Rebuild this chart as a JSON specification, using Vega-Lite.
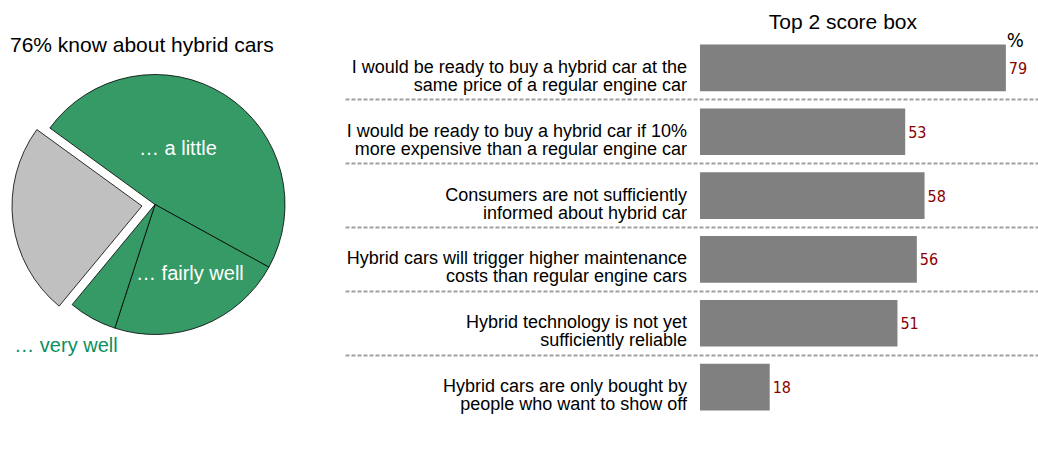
{
  "$schema": "https://vega.github.io/schema/vega-lite/v6.json",
  "padding": {"left": 0, "right": 0, "top": 12, "bottom": 0},
  "background": "white",
  "config": {
    "view": {"stroke": null},
    "font": "Liberation Sans",
    "title": {"fontWeight": "normal", "color": "black", "font": "Liberation Sans"}
  },
  "title": {"text": "Top 2 score box", "anchor": "end", "dx": -121, "fontSize": 21, "offset": -2},
  "spacing": 35,
  "hconcat": [
    {
      "width": 310,
      "height": 337,
      "title": {"text": "76% know about hybrid cars", "anchor": "start", "dx": 10, "fontSize": 21, "offset": -20},
      "data": {
        "values": [
          {"cat": "little", "label": "… a little", "value": 48, "ord": 1},
          {"cat": "fairly", "label": "… fairly well", "value": 22, "ord": 2},
          {"cat": "very", "label": "… very well", "value": 6, "ord": 3},
          {"cat": "none", "label": "", "value": 24, "ord": 4}
        ]
      },
      "encoding": {
        "theta": {"field": "value", "type": "quantitative", "stack": true, "scale": {"range": [-0.942, 5.341]}},
        "order": {"field": "ord", "type": "quantitative"}
      },
      "layer": [
        {
          "mark": {
            "type": "arc",
            "outerRadius": 130,
            "stroke": "black",
            "strokeWidth": 0.8,
            "xOffset": {"expr": "datum.cat === 'none' ? -13 : 0"},
            "yOffset": {"expr": "datum.cat === 'none' ? 1.5 : 0"}
          },
          "encoding": {
            "color": {
              "field": "cat",
              "type": "nominal",
              "scale": {"domain": ["little", "fairly", "very", "none"], "range": ["#359a66", "#359a66", "#359a66", "#c0c0c0"]},
              "legend": null
            }
          }
        },
        {
          "mark": {
            "type": "text",
            "fontSize": 20,
            "baseline": "middle",
            "align": "center",
            "radius": {"expr": "datum.cat === 'very' ? 166 : 65"},
            "dx": {"expr": "datum.cat === 'little' ? -12 : datum.cat === 'fairly' ? 11 : -9"},
            "dy": {"expr": "datum.cat === 'little' ? -1 : datum.cat === 'fairly' ? 9 : -4"},
            "fill": {"expr": "datum.cat === 'very' ? '#0b8f5f' : 'white'"}
          },
          "encoding": {"text": {"field": "label"}}
        }
      ]
    },
    {
      "width": 693,
      "height": 383,
      "data": {
        "values": [
          {"id": "q1", "label": "I would be ready to buy a hybrid car at the\nsame price of a regular engine car", "value": 79},
          {"id": "q2", "label": "I would be ready to buy a hybrid car if 10%\nmore expensive than a regular engine car", "value": 53},
          {"id": "q3", "label": "Consumers are not sufficiently\ninformed about hybrid car", "value": 58},
          {"id": "q4", "label": "Hybrid cars will trigger higher maintenance\ncosts than regular engine cars", "value": 56},
          {"id": "q5", "label": "Hybrid technology is not yet\nsufficiently reliable", "value": 51},
          {"id": "q6", "label": "Hybrid cars are only bought by\npeople who want to show off", "value": 18}
        ]
      },
      "encoding": {
        "y": {
          "field": "id",
          "type": "nominal",
          "sort": null,
          "scale": {"paddingInner": 0, "paddingOuter": 0},
          "axis": {
            "domain": false,
            "ticks": false,
            "labels": false,
            "title": null,
            "grid": true,
            "gridDash": [4, 2],
            "gridColor": "#a0a0a0",
            "gridWidth": 1.8,
            "bandPosition": 0,
            "gridOpacity": {"condition": {"test": "datum.value === 'q1'", "value": 0}, "value": 1}
          }
        }
      },
      "layer": [
        {
          "mark": {"type": "bar", "color": "#808080", "height": {"band": 0.73}},
          "encoding": {
            "x": {"field": "value", "type": "quantitative", "scale": {"domain": [-91.7, 87.3], "nice": false}, "axis": null}
          }
        },
        {
          "mark": {"type": "text", "align": "left", "baseline": "middle", "dx": 3, "dy": 1, "color": "#8b0000", "fontSize": 16, "font": "DejaVu Sans Condensed, sans-serif"},
          "encoding": {
            "x": {"field": "value", "type": "quantitative"},
            "text": {"field": "value", "type": "quantitative"}
          }
        },
        {
          "mark": {"type": "text", "align": "right", "baseline": "middle", "dx": -13, "lineBreak": "\n", "fontSize": 18, "lineHeight": 18, "color": "black"},
          "encoding": {
            "x": {"datum": 0, "type": "quantitative"},
            "text": {"field": "label"}
          }
        },
        {
          "data": {"values": [{"t": "%"}]},
          "mark": {"type": "text", "align": "left", "baseline": "middle", "dx": 1, "dy": 5, "fontSize": 20, "color": "black", "font": "DejaVu Sans Condensed, sans-serif"},
          "encoding": {
            "x": {"datum": 79, "type": "quantitative"},
            "y": {"datum": "q1", "type": "nominal", "bandPosition": 0},
            "text": {"field": "t"}
          }
        }
      ]
    }
  ]
}
